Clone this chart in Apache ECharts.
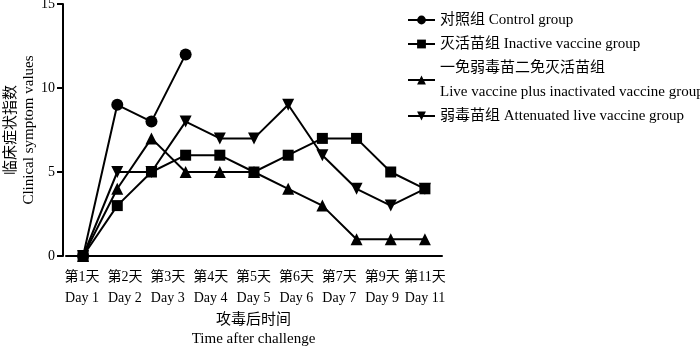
<!DOCTYPE html>
<html>
<head>
<meta charset="utf-8">
<script src="https://cdn.jsdelivr.net/npm/echarts@6/dist/echarts.min.js"></script>
<style>html,body{margin:0;padding:0;background:#fff}#c{width:700px;height:346px}</style>
</head>
<body>
<div id="c"></div>
<script>
// ---- data ----
var tickPositions = ['1','2','3','4','5','6','7','8','9','10','11'];
var dayLabels = ['第1天\nDay 1','第2天\nDay 2','第3天\nDay 3','第4天\nDay 4','第5天\nDay 5','第6天\nDay 6','第7天\nDay 7','第9天\nDay 9','第11天\nDay 11'];
var yTicks = [0, 5, 10, 15];
var seriesNames = ['对照组 Control group','灭活苗组 Inactive vaccine group','一免弱毒苗二免灭活苗组\nLive vaccine plus inactivated vaccine group','弱毒苗组 Attenuated live vaccine group'];
var controlValues = [0, 9, 8, 12];
var inactiveValues = [0, 3, 5, 6, 6, 5, 6, 7, 7, 5, 4];
var livePlusInactValues = [0, 4, 7, 5, 5, 5, 4, 3, 1, 1, 1];
var attenuatedValues = [0, 5, 5, 8, 7, 7, 9, 6, 4, 3, 4];
var yName = '临床症状指数\nClinical symptom values';
var xName = '攻毒后时间\nTime after challenge';

var FONT = '"Liberation Serif", "Times New Roman", "Noto Sans CJK SC", serif';
var chart = echarts.init(document.getElementById('c'), null, {renderer: 'canvas'});
var invTri = 'path://M0,0L20,0L10,17.32Z';
function mk(name, data, symbol, size) {
  return {
    name: name, type: 'line', data: data, xAxisIndex: 0, yAxisIndex: 0,
    symbol: symbol, symbolSize: size, showSymbol: true,
    lineStyle: {color: '#000', width: 2},
    itemStyle: {color: '#000', borderWidth: 0},
    emphasis: {disabled: true}, animation: false
  };
}
chart.setOption({
  animation: false,
  backgroundColor: '#fff',
  textStyle: {fontFamily: FONT, color: '#000'},
  grid: [
    {left: 66, right: 258, top: 4, bottom: 90, containLabel: false, outerBoundsMode: 'none'},
    {left: 82, right: 275, top: 4, bottom: 90, containLabel: false, outerBoundsMode: 'none'}
  ],
  legend: {
    orient: 'vertical', left: 407, top: 8, itemGap: 0, padding: 0,
    itemWidth: 27, itemHeight: 11,
    textStyle: {fontFamily: FONT, fontSize: 15, color: '#000', lineHeight: 24},
    data: seriesNames,
    selectedMode: false
  },
  xAxis: [
    {
      type: 'category', gridIndex: 0, data: tickPositions, boundaryGap: true,
      axisLine: {lineStyle: {color: '#000', width: 2}},
      axisTick: {alignWithLabel: true, interval: 0, length: 6, lineStyle: {color: '#000', width: 2}},
      axisLabel: {show: false}, splitLine: {show: false}
    },
    {
      type: 'category', gridIndex: 1, data: dayLabels, boundaryGap: false,
      axisLine: {show: false}, axisTick: {show: false}, splitLine: {show: false},
      axisLabel: {interval: 0, fontFamily: FONT, fontSize: 14, color: '#000', lineHeight: 21, margin: 11},
      name: xName, nameLocation: 'middle', nameGap: 55, nameMoveOverlap: false,
      nameTextStyle: {fontFamily: FONT, fontSize: 15, color: '#000', lineHeight: 19}
    }
  ],
  yAxis: [
    {
      type: 'value', gridIndex: 0, min: yTicks[0], max: yTicks[yTicks.length - 1], interval: 5, offset: 3,
      axisLine: {show: true, lineStyle: {color: '#000', width: 2}},
      axisTick: {show: true, length: 6, lineStyle: {color: '#000', width: 2}},
      axisLabel: {fontFamily: FONT, fontSize: 14, color: '#000', margin: 8},
      splitLine: {show: false},
      name: yName, nameLocation: 'middle', nameGap: 25, nameMoveOverlap: false,
      nameTextStyle: {fontFamily: FONT, fontSize: 15, color: '#000', lineHeight: 18}
    },
    {type: 'value', gridIndex: 1, show: false, min: 0, max: 15}
  ],
  series: [
    mk(seriesNames[0], controlValues, 'circle', 12),
    mk(seriesNames[1], inactiveValues, 'rect', 11),
    mk(seriesNames[2], livePlusInactValues, 'triangle', 12),
    mk(seriesNames[3], attenuatedValues, invTri, 12)
  ]
});
</script>
</body>
</html>
